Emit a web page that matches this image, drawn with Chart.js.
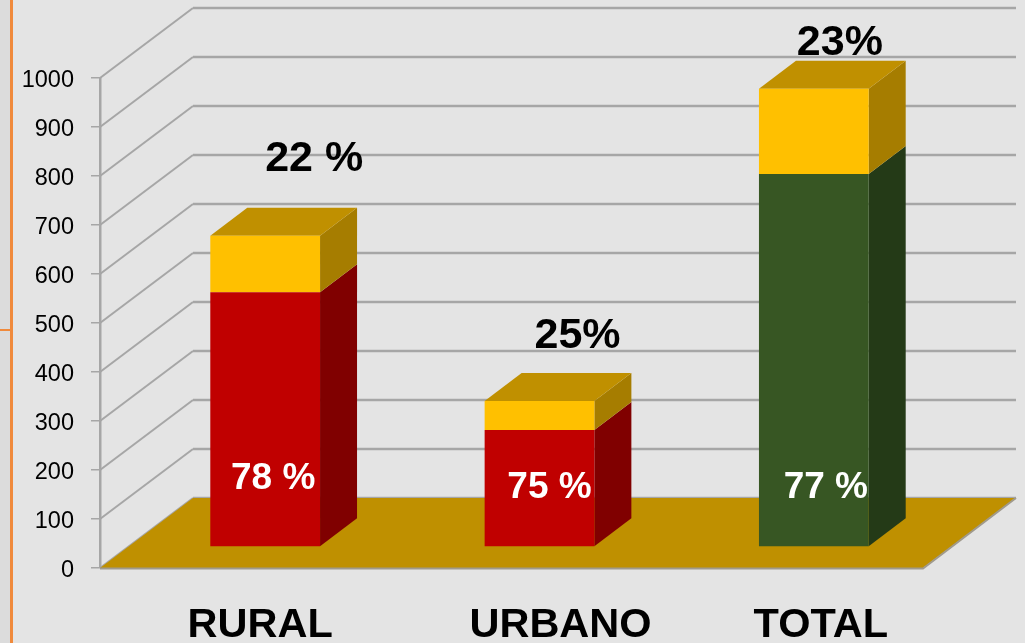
<!DOCTYPE html>
<html>
<head>
<meta charset="utf-8">
<style>
html,body{margin:0;padding:0;background:#e4e4e4;width:1025px;height:643px;overflow:hidden}
#wrap{position:relative;width:1025px;height:643px}
canvas{position:absolute;left:0;top:0;display:block}
.strip{position:absolute;left:0;top:0;width:10px;height:643px;background:#dcdcdc}
.ov{position:absolute;left:10px;top:0;width:3px;height:643px;background:#f08a3c}
.oh{position:absolute;left:0;top:329px;width:12px;height:2px;background:#f08a3c}
</style>
<script src="https://cdn.jsdelivr.net/npm/chart.js@4/dist/chart.umd.min.js"></script>
</head>
<body>
<div id="wrap">
<div class="strip"></div><div class="ov"></div><div class="oh"></div>
<canvas id="c" width="1025" height="643"></canvas>
</div>
<script>
const categories = ['RURAL', 'URBANO', 'TOTAL'];
const lowerValues = [520, 239, 761];
const upperValues = [115, 59, 174];
const lowerLabels = ['78 %', '75 %', '77 %'];
const upperLabels = ['22 %', '25%', '23%'];
const yTicks = [0, 100, 200, 300, 400, 500, 600, 700, 800, 900, 1000];

const lowerFront = ['#c00000', '#c00000', '#375623'];
const lowerSide = ['#800000', '#800000', '#243a17'];
const upperFront = '#ffc000', upperSide = '#a67d00', upperTop = '#c09000';
const floorColor = '#bf9000', gridColor = '#a6a6a6';

// 3D geometry (pixels)
const WALL = {dx: 93, dy: -70};
const BAR_SHIFT = {dx: 28, dy: -21};
const BAR_DEPTH = {dx: 37, dy: -28};
// label placement relative to each bar
const upperNudge = [[77, -98], [66, -86], [54, -67]];
const lowerNudge = [[36, -88], [38, -79], [40, -79]];
const xLabelNudge = [23, 49, 35];

function poly(ctx, pts, fill) {
  ctx.beginPath();
  pts.forEach((p, i) => i ? ctx.lineTo(p[0], p[1]) : ctx.moveTo(p[0], p[1]));
  ctx.closePath();
  ctx.fillStyle = fill;
  ctx.fill();
}

const scene3d = {
  id: 'scene3d',
  beforeDraw(chart) {
    const xs = chart.scales.x;
    xs.getLabelItems(chart.chartArea).forEach((it, i) => {
      if (!it._shifted) { it.options.translation[0] += xLabelNudge[i]; it._shifted = true; }
    });
  },
  beforeDatasetsDraw(chart) {
    const ctx = chart.ctx, a = chart.chartArea, ys = chart.scales.y;
    ctx.save();
    // walls
    ctx.strokeStyle = gridColor;
    ys.ticks.forEach(t => {
      const y = ys.getPixelForValue(t.value);
      ctx.lineWidth = 2;
      ctx.beginPath();
      ctx.moveTo(a.left, y);
      ctx.lineTo(a.left + WALL.dx, y + WALL.dy);
      ctx.stroke();
      ctx.lineWidth = 2.5;
      ctx.beginPath();
      ctx.moveTo(a.left + WALL.dx, y + WALL.dy);
      ctx.lineTo(a.right + WALL.dx, y + WALL.dy);
      ctx.stroke();
    });
    // floor
    const y0 = ys.getPixelForValue(0);
    poly(ctx, [[a.left, y0], [a.left + WALL.dx, y0 + WALL.dy], [a.right + WALL.dx, y0 + WALL.dy], [a.right, y0]], floorColor);
    ctx.beginPath();
    ctx.moveTo(a.left, y0 + 0.5); ctx.lineTo(a.right, y0 + 0.5);
    ctx.lineTo(a.right + WALL.dx, y0 + WALL.dy);
    ctx.strokeStyle = '#a09a8c'; ctx.lineWidth = 2; ctx.stroke();

    // side and top faces
    const lower = chart.getDatasetMeta(0).data, upper = chart.getDatasetMeta(1).data;
    const sx = BAR_SHIFT.dx, sy = BAR_SHIFT.dy, dx = BAR_DEPTH.dx, dy = BAR_DEPTH.dy;
    lower.forEach((el, i) => {
      const up = upper[i];
      const r = el.x + el.width / 2 + sx, l = el.x - el.width / 2 + sx;
      const yb = el.base + sy, ym = el.y + sy, yt = up.y + sy;
      poly(ctx, [[r, yb], [r + dx, yb + dy], [r + dx, ym + dy], [r, ym]], lowerSide[i]);
      poly(ctx, [[r, ym], [r + dx, ym + dy], [r + dx, yt + dy], [r, yt]], upperSide);
      poly(ctx, [[l, yt], [l + dx, yt + dy], [r + dx, yt + dy], [r, yt]], upperTop);
    });
    ctx.restore();
    // front faces are the library's own bars, moved to their place on the floor
    ctx.save();
    ctx.translate(sx, sy);
  },
  afterDatasetsDraw(chart) {
    const ctx = chart.ctx;
    ctx.restore();
    const lower = chart.getDatasetMeta(0).data, upper = chart.getDatasetMeta(1).data;
    ctx.save();
    ctx.textAlign = 'center';
    ctx.textBaseline = 'middle';
    ctx.fillStyle = '#000';
    ctx.font = 'bold 43px "Liberation Sans", Arial, sans-serif';
    upper.forEach((el, i) => ctx.fillText(upperLabels[i], el.x + upperNudge[i][0], el.y + upperNudge[i][1]));
    ctx.fillStyle = '#fff';
    ctx.font = 'bold 37px "Liberation Sans", Arial, sans-serif';
    lower.forEach((el, i) => ctx.fillText(lowerLabels[i], el.x + lowerNudge[i][0], el.base + lowerNudge[i][1]));
    ctx.restore();
  }
};

new Chart(document.getElementById('c'), {
  type: 'bar',
  data: {
    labels: categories,
    datasets: [
      {label: 'Base', data: lowerValues, backgroundColor: lowerFront, borderWidth: 0},
      {label: 'Resto', data: upperValues, backgroundColor: upperFront, borderWidth: 0}
    ]
  },
  options: {
    responsive: false,
    animation: false,
    devicePixelRatio: 1,
    layout: {padding: {left: 0, right: 102, top: 78, bottom: 0}},
    plugins: {legend: {display: false}, tooltip: {enabled: false}},
    datasets: {bar: {barPercentage: 0.4, categoryPercentage: 1}},
    scales: {
      x: {
        stacked: true,
        afterFit: s => { s.height = 75; },
        grid: {display: false},
        border: {display: false},
        ticks: {
          color: '#000', padding: 25, maxRotation: 0, autoSkip: false,
          font: {family: '"Liberation Sans", Arial, sans-serif', size: 41.5, weight: 'bold'}
        }
      },
      y: {
        stacked: true,
        min: 0,
        max: 1000,
        afterFit: s => { s.width = 100; },
        afterBuildTicks: s => { s.ticks = yTicks.map(v => ({value: v})); },
        grid: {drawOnChartArea: false, drawTicks: true, tickLength: 9, color: gridColor, lineWidth: 1.5},
        border: {display: true, color: gridColor, width: 2.5},
        ticks: {
          color: '#000', padding: 17, labelOffset: 3,
          callback: v => String(v),
          font: {family: '"Liberation Sans", Arial, sans-serif', size: 23.5}
        }
      }
    }
  },
  plugins: [scene3d]
});
</script>
</body>
</html>
